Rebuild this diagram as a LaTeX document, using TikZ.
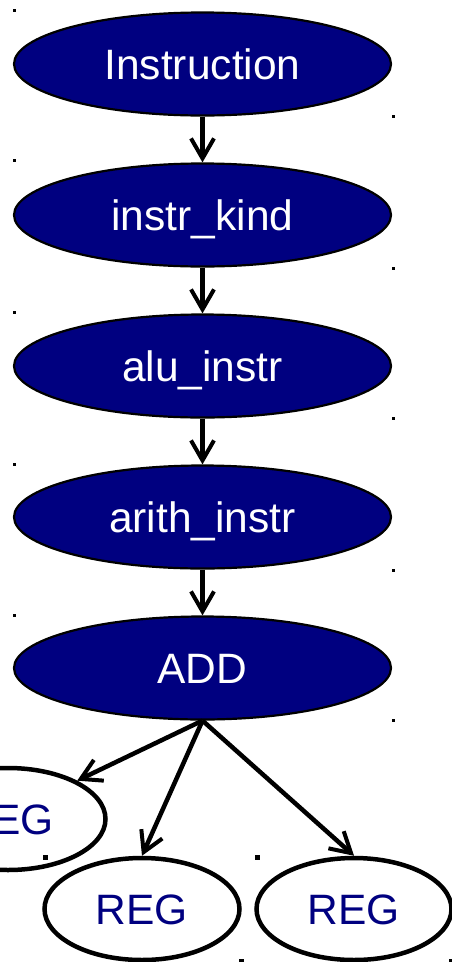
\documentclass[tikz,border=0pt]{standalone}
\usepackage{fontspec}
\setmainfont{Liberation Sans}
\usetikzlibrary{shapes.geometric,arrows.meta}
\definecolor{navy}{RGB}{0,0,128}
\begin{document}
\begin{tikzpicture}[x=1pt,y=-1pt,
  chainnode/.style={ellipse, draw=black, line width=2.2pt, fill=navy, text=white,
    minimum width=377pt, minimum height=103pt, inner sep=0pt,
    font=\fontsize{42.5}{42.5}\selectfont, text height=30.4pt, text depth=0pt},
  leafnode/.style={ellipse, draw=black, line width=4.5pt, fill=white, text=navy,
    minimum width=195pt, minimum height=102pt, inner sep=0pt,
    font=\fontsize{42.5}{42.5}\selectfont, text height=30.4pt, text depth=0pt},
  flow/.style={line width=4.5pt, -{Straight Barb[length=20pt,width=23pt,line width=4pt]}},
  speck/.style={fill=black}
]
\useasboundingbox (0,0) rectangle (452,962);

% chain of instruction categories
\node[chainnode] (instr) at (202.5,64)  {Instruction};
\node[chainnode] (kind)  at (202.5,215) {instr\_kind};
\node[chainnode] (alu)   at (202.5,366) {alu\_instr};
\node[chainnode] (arith) at (202.5,517) {arith\_instr};
\node[chainnode] (add)   at (202.5,668) {ADD};

% operands
\node[leafnode] (rega) at (8,819)   {REG};
\node[leafnode] (regb) at (142,909) {REG};
\node[leafnode] (regc) at (354,909) {REG};

% edges
\draw[flow] (instr.south) -- (kind.north);
\draw[flow] (kind.south)  -- (alu.north);
\draw[flow] (alu.south)   -- (arith.north);
\draw[flow] (arith.south) -- (add.north);
\draw[flow] (add.south) -- (rega.29);
\draw[flow] (add.south) -- (regb.north);
\draw[flow] (add.south) -- (regc.north);

% bounding-box corner specks
\foreach \p in {(13,9),(392,115),(13,159),(392,267),(13,311),(392,417),
                (13,463),(392,569),(13,614),(392,719)}
  \fill[speck] \p rectangle +(3,3);
\foreach \p in {(43,855),(255,855)}
  \fill[speck] \p rectangle +(5,5);
\fill[speck] (239,959) rectangle +(5,3);
\fill[speck] (449,959) rectangle +(3,3);
\end{tikzpicture}
\end{document}
